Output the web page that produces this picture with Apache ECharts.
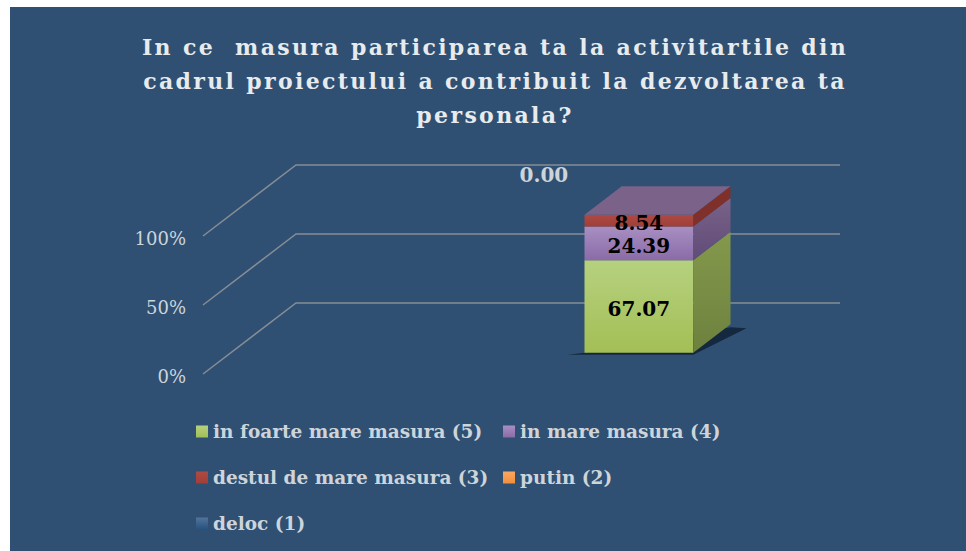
<!DOCTYPE html>
<html>
<head>
<meta charset="utf-8">
<style>
html, body { margin: 0; padding: 0; background: #fff; }
#main { position: absolute; left: 10px; top: 7px; width: 956px; height: 544px; }
/* titlul are litere rasfirate */
#main text[style*="22px"] { letter-spacing: 2.35px; }
</style>
<script src="https://cdn.jsdelivr.net/npm/echarts@6/dist/echarts.min.js"></script>
</head>
<body>
<div id="main"></div>
<script>
var categories = ['', ' '];
var yTicks = [0, 50, 100];
var seriesNames = ['in foarte mare masura (5)', 'in mare masura (4)', 'destul de mare masura (3)', 'putin (2)', 'deloc (1)'];
var valuesFoarteMare = [null, 67.07];
var valuesMare = [null, 24.39];
var valuesDestul = [null, 8.54];
var valuesPutin = [null, 0];
var valuesDeloc = [null, 0];
var titleText = 'In ce  masura participarea ta la activitartile din\ncadrul proiectului a contribuit la dezvoltarea ta\npersonala?';

var allValues = [valuesFoarteMare, valuesMare, valuesDestul, valuesPutin, valuesDeloc];

// culori: fata, lateral
var frontColors = [['#b6d17f', '#a3bf55'], ['#a88fc2', '#8a6ba8'], ['#ad4a43', '#a23e38'], ['#f9a860', '#f28f3c'], ['#54749a', '#24527f']];
var sideColors = [['#84994c', '#6d813e'], ['#7a6288', '#5f4c78'], ['#80302b', '#80302b'], ['#b06a30', '#a05a20'], ['#2f5072', '#2f5072']];
var topColor = '#7a6288';
var textColor = '#cdd4da';
var fontName = '"DejaVu Serif", serif';

// adancimea graficului 3D
var gridDx = 93, gridDy = -71;
var barStart = 0.3, barEnd = 0.7;

function grad(c) {
    return new echarts.graphic.LinearGradient(0, 0, 0, 1, [{ offset: 0, color: c[0] }, { offset: 1, color: c[1] }]);
}

function renderGrid(params, api) {
    var cs = params.coordSys;
    var y = api.coord([0, api.value(1)])[1];
    return {
        type: 'polyline',
        silent: true,
        shape: { points: [[cs.x, y], [cs.x + gridDx, y + gridDy], [cs.x + cs.width + gridDx, y + gridDy]] },
        style: { stroke: '#858d95', lineWidth: 1.5, fill: null }
    };
}

function makeRender(index) {
    return function (params, api) {
        var cat = api.value(0), start = api.value(1), end = api.value(2);
        var p0 = api.coord([cat, start]), p1 = api.coord([cat, end]);
        var w = api.size([1, 0])[0] * 0.4;
        var left = p0[0] + gridDx * barStart - w / 2;
        var right = left + w;
        var yb = p0[1] + gridDy * barStart;
        var yt = p1[1] + gridDy * barStart;
        var dx = gridDx * (barEnd - barStart), dy = gridDy * (barEnd - barStart);
        var value = end - start;
        var children = [];

        if (index === 0) {
            // umbra de sub coloana
            children.push({
                type: 'polygon',
                silent: true,
                shape: { points: [[left - 17, yb + 2], [right, yb + 2], [right + dx + 16, yb + dy + 4], [right + dx, yb + dy + 3], [left, yb]] },
                style: { fill: '#14283f' }
            });
        }
        if (value > 0) {
            children.push({
                type: 'rect', silent: true,
                shape: { x: left, y: yt, width: w, height: yb - yt },
                style: { fill: grad(frontColors[index]) }
            });
            children.push({
                type: 'polygon', silent: true,
                shape: { points: [[right, yb], [right, yt], [right + dx, yt + dy], [right + dx, yb + dy]] },
                style: { fill: grad(sideColors[index]) }
            });
            if (Math.abs(end - 100) < 0.01) {
                children.push({
                    type: 'polygon', silent: true,
                    shape: { points: [[left, yt], [right, yt], [right + dx, yt + dy], [left + dx, yt + dy]] },
                    style: { fill: topColor }
                });
            }
            children.push({
                type: 'text', silent: true, z2: 50,
                style: {
                    x: (left + right) / 2, y: (yt + yb) / 2 + (value < 10 ? 2.5 : 3),
                    text: value.toFixed(2), align: 'center', verticalAlign: 'middle',
                    font: 'bold 20px ' + fontName, fill: '#000'
                }
            });
        } else if (index === 4) {
            // eticheta 0.00 sta deasupra, in stanga coloanei
            children.push({
                type: 'text', silent: true, z2: 50,
                style: {
                    x: (left + right) / 2 - 95, y: yt - 40,
                    text: value.toFixed(2), align: 'center', verticalAlign: 'middle',
                    font: 'bold 20px ' + fontName, fill: textColor
                }
            });
        }
        return { type: 'group', children: children };
    };
}

var myChart = echarts.init(document.getElementById('main'), null, { renderer: 'svg' });

var series = [{
    type: 'custom',
    name: 'grid',
    silent: true,
    renderItem: renderGrid,
    encode: { y: 1 },
    data: yTicks.map(function (t) { return [0, t]; })
}];

// valorile se cumuleaza pentru coloana stivuita
var cumul = categories.map(function () { return 0; });
seriesNames.forEach(function (name, i) {
    var rows = [];
    allValues[i].forEach(function (v, c) {
        if (v === null) return;
        rows.push([c, cumul[c], cumul[c] + v]);
        cumul[c] += v;
    });
    series.push({
        type: 'custom',
        name: name,
        silent: true,
        itemStyle: { color: grad(frontColors[i]) },
        renderItem: makeRender(i),
        encode: { x: 0, y: [1, 2] },
        data: rows
    });
});

// legenda pe doua coloane aliniate
function makeLegend(names, left) {
    return {
        data: names,
        orient: 'vertical',
        left: left,
        top: 410,
        itemWidth: 12,
        itemHeight: 12,
        itemGap: 27,
        icon: 'rect',
        selectedMode: false,
        textStyle: {
            color: textColor,
            fontFamily: fontName,
            fontWeight: 'bold',
            fontSize: 18.5
        }
    };
}

var option = {
    animation: false,
    backgroundColor: '#2f5072',
    title: {
        text: titleText,
        left: 480,
        top: 18,
        textAlign: 'center',
        textStyle: {
            color: '#e8ebee',
            fontFamily: fontName,
            fontWeight: 'bold',
            fontSize: 22,
            lineHeight: 34
        }
    },
    grid: { left: 193, top: 229, width: 544, height: 138 },
    xAxis: { type: 'category', data: categories, show: false },
    yAxis: {
        type: 'value',
        min: 0,
        max: 100,
        interval: 50,
        axisLine: { show: false },
        axisTick: { show: false },
        splitLine: { show: false },
        axisLabel: {
            formatter: '{value}%',
            margin: 17,
            color: textColor,
            fontFamily: fontName,
            fontSize: 18,
            verticalAlign: 'top',
            lineHeight: 4
        }
    },
    legend: [
        makeLegend([seriesNames[0], seriesNames[2], seriesNames[4]], 181),
        makeLegend([seriesNames[1], seriesNames[3]], 488)
    ],
    series: series
};

myChart.setOption(option);
</script>
</body>
</html>
